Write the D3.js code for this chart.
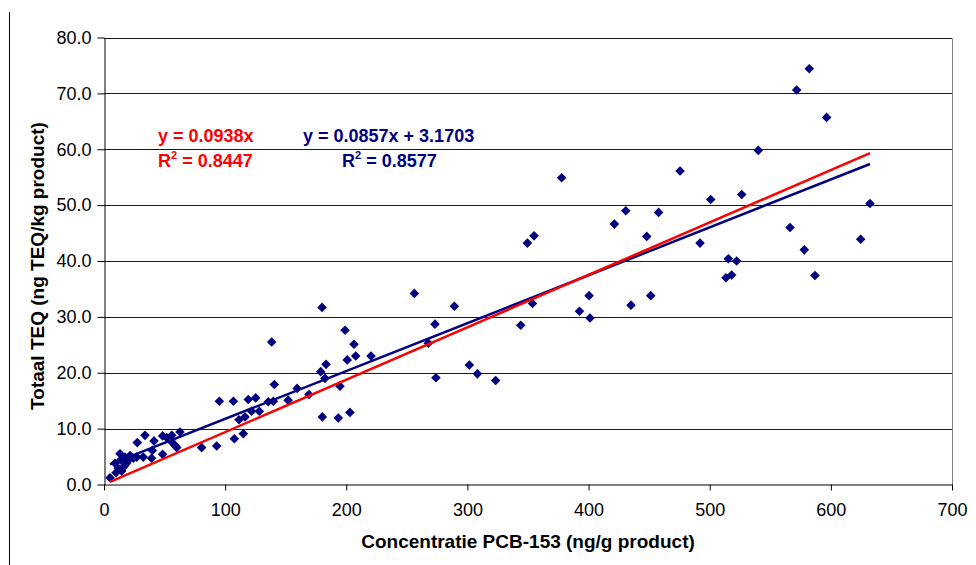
<!DOCTYPE html>
<html>
<head>
<meta charset="utf-8">
<script src="https://cdn.jsdelivr.net/npm/d3@7"></script>
<style>
  body { margin: 0; background: #fff; }
  svg { display: block; font-family: "Liberation Sans", Arial, sans-serif; }
  .tick text { font-size: 18px; fill: #000; }
</style>
</head>
<body>
<svg id="chart"></svg>
<script>
var width = 976;
var height = 565;

// PCB-153 concentration (ng/g product) per sample
var pcb = [5, 9.9, 11.8, 14.6, 16.5, 9.1, 18.6, 13.2, 13.8, 17.3,
  20.1, 21.5, 24.2, 27, 32.4, 39.3, 27.5, 33.8, 39.9, 41.3,
  48.4, 51.7, 55.9, 62.7, 55.9, 58.7, 60, 48.4, 80.6, 93,
  95.2, 106.8, 107.6, 111.4, 115, 116.4, 119.1, 121.9, 125.2, 128.2,
  135.6, 138.4, 139.8, 140.6, 152, 159.4, 169.2, 178.9, 180, 180.2,
  182.4, 183.3, 193.4, 194.8, 199, 200.8, 203, 206.4, 207.8, 220.4,
  256.2, 267.7, 273.2, 274, 289.2, 301.6, 308.2, 323.3, 344, 349.5,
  353.7, 355, 377.8, 392.5, 400.4, 401.2, 421.3, 430.7, 435, 448,
  451.3, 457.8, 475.5, 492, 500.8, 513.4, 515.4, 518.1, 522.2, 526.4,
  540.1, 566.3, 571.8, 578.1, 582.2, 586.9, 596.5, 624.6, 632.3];

// total TEQ (ng TEQ/kg product), same order
var teq = [1.2, 2.1, 2.9, 2.4, 3.2, 3.8, 3.8, 5.5, 4.4, 4.9,
  4.4, 5.2, 4.7, 4.9, 4.9, 4.7, 7.5, 8.8, 6.1, 7.8,
  8.7, 8.4, 8.8, 9.4, 7.6, 7.0, 6.6, 5.4, 6.6, 6.9,
  14.9, 14.9, 8.2, 11.6, 9.1, 12.1, 15.2, 13.1, 15.5, 13.1,
  14.8, 25.5, 14.9, 17.9, 15.1, 17.2, 16.1, 20.2, 31.7, 12.1,
  19.0, 21.5, 11.9, 17.6, 27.6, 22.3, 12.9, 25.1, 23.0, 23.0,
  34.2, 25.3, 28.7, 19.1, 31.9, 21.4, 19.8, 18.6, 28.5, 43.2,
  32.4, 44.5, 54.9, 31.0, 33.8, 29.8, 46.6, 49.0, 32.1, 44.4,
  33.8, 48.7, 56.1, 43.2, 51.0, 37.0, 40.4, 37.5, 40.0, 51.9,
  59.8, 46.0, 70.6, 42.0, 74.4, 37.4, 65.7, 43.9, 50.3];

var xTicks = [0, 100, 200, 300, 400, 500, 600, 700];
var yTicks = [0, 10, 20, 30, 40, 50, 60, 70, 80];

// trendlines from the chart
var fitOrigin = { slope: 0.0938, icept: 0, r2: "0.8447" };
var fitFree = { slope: 0.0857, icept: 3.1703, r2: "0.8577" };

var plotLeft = 104, plotRight = 952, plotTop = 37.5, plotBottom = 484.5;

var x = d3.scaleLinear().domain([0, 700]).range([plotLeft, plotRight]);
var y = d3.scaleLinear().domain([0, 80]).range([plotBottom, plotTop]);

var svg = d3.select("#chart").attr("width", width).attr("height", height);

// thin frame line at the left edge
svg.append("line")
  .attr("x1", 9.5).attr("x2", 9.5)
  .attr("y1", 12).attr("y2", height)
  .attr("stroke", "#000").attr("stroke-width", 1);

// gridlines
svg.append("g").selectAll("line")
  .data(yTicks.filter(function (d) { return d > 0; }))
  .enter().append("line")
  .attr("x1", plotLeft).attr("x2", plotRight)
  .attr("y1", function (d) { return Math.round(y(d)) + 0.5; })
  .attr("y2", function (d) { return Math.round(y(d)) + 0.5; })
  .attr("stroke", "#1a1a1a").attr("stroke-width", 1);

// right border of plot area
svg.append("line")
  .attr("x1", plotRight + 0.5).attr("x2", plotRight + 0.5)
  .attr("y1", Math.round(plotTop) + 0.5).attr("y2", plotBottom)
  .attr("stroke", "#808080").attr("stroke-width", 1);

var yAxis = svg.append("g")
  .attr("transform", "translate(" + (plotLeft + 0.5) + ",0)")
  .call(d3.axisLeft(y).tickValues(yTicks).tickSize(7).tickSizeOuter(0)
    .tickPadding(6).tickFormat(d3.format(".1f")));
yAxis.selectAll("path, line").attr("stroke", "#000");
yAxis.selectAll("text").attr("font-family", null);

var xAxis = svg.append("g")
  .attr("transform", "translate(0," + (Math.round(plotBottom) - 0.5) + ")")
  .call(d3.axisBottom(x).tickValues(xTicks).tickSize(6).tickSizeOuter(0).tickPadding(13));
xAxis.selectAll("path, line").attr("stroke", "#000");
xAxis.selectAll("text").attr("font-family", null);

// points
svg.append("g").selectAll("path")
  .data(pcb.map(function (d, i) { return [d, teq[i]]; }))
  .enter().append("path")
  .attr("d", "M0,-4.8L4.8,0L0,4.8L-4.8,0Z")
  .attr("transform", function (d) { return "translate(" + x(d[0]) + "," + y(d[1]) + ")"; })
  .attr("fill", "#000080");

// trendlines over the data range
var xmin = d3.min(pcb), xmax = d3.max(pcb);
var line = d3.line().x(function (d) { return x(d[0]); }).y(function (d) { return y(d[1]); });

svg.append("path")
  .attr("d", line([[xmin, fitFree.slope * xmin + fitFree.icept], [xmax, fitFree.slope * xmax + fitFree.icept]]))
  .attr("stroke", "#000080").attr("stroke-width", 2.5).attr("fill", "none");
svg.append("path")
  .attr("d", line([[xmin, fitOrigin.slope * xmin + fitOrigin.icept], [xmax, fitOrigin.slope * xmax + fitOrigin.icept]]))
  .attr("stroke", "#ff0000").attr("stroke-width", 2.5).attr("fill", "none");

// equation labels
function eqLabel(px, py, txt, col) {
  svg.append("text").attr("x", px).attr("y", py)
    .attr("font-size", 18).attr("font-weight", "bold").attr("fill", col)
    .text(txt);
}
function r2Label(px, py, val, col) {
  var t = svg.append("text").attr("x", px).attr("y", py)
    .attr("font-size", 18).attr("font-weight", "bold").attr("fill", col);
  t.append("tspan").text("R");
  t.append("tspan").attr("font-size", 11).attr("dy", -8).text("2");
  t.append("tspan").attr("dy", 8).text(" = " + val);
}
eqLabel(158, 142, "y = " + fitOrigin.slope + "x", "#ff0000");
r2Label(158, 167, fitOrigin.r2, "#ff0000");
eqLabel(303, 142, "y = " + fitFree.slope + "x + " + fitFree.icept, "#000080");
r2Label(342, 167, fitFree.r2, "#000080");

// axis titles
svg.append("text")
  .attr("x", (plotLeft + plotRight) / 2).attr("y", 548)
  .attr("text-anchor", "middle").attr("font-size", 19).attr("font-weight", "bold")
  .text("Concentratie PCB-153 (ng/g product)");

svg.append("text")
  .attr("transform", "translate(44," + 266 + ") rotate(-90)")
  .attr("text-anchor", "middle").attr("font-size", 19).attr("font-weight", "bold")
  .text("Totaal TEQ (ng TEQ/kg product)");
</script>
</body>
</html>
